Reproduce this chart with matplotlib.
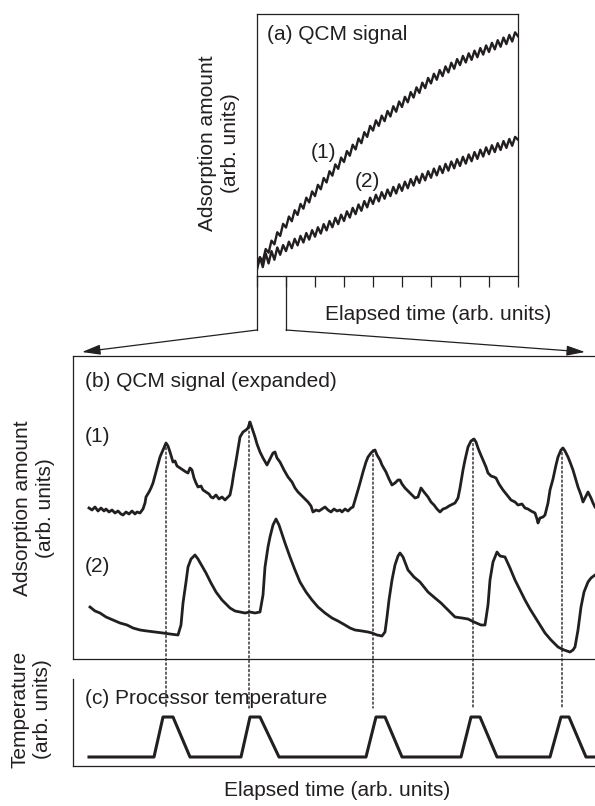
import numpy as np
import matplotlib
matplotlib.use('Agg')
from matplotlib import pyplot as plt
from matplotlib.patches import ConnectionPatch, FancyArrowPatch
from matplotlib.lines import Line2D

plt.rcParams['font.family'] = ['Liberation Sans', 'DejaVu Sans']
plt.rcParams['font.size'] = 15
INK = '#231f20'

# ---- (a) QCM signal, long run (arb. units) ----
time_a = np.linspace(0, 9, 91)
qcm_a1 = [2.5, 7.1, 5.7, 10.3, 8.9, 13.5, 12.1, 16.7, 15.3, 19.9,
          18.5, 22.7, 20.9, 25.1, 23.3, 27.5, 25.7, 29.9, 28.1, 32.3,
          30.5, 34.8, 33.1, 37.4, 35.7, 40.0, 38.3, 42.6, 40.9, 45.2,
          43.5, 47.7, 45.9, 50.1, 48.3, 52.5, 50.7, 54.9, 53.1, 57.3,
          55.5, 59.4, 57.3, 61.2, 59.1, 63.0, 60.9, 64.8, 62.7, 66.6,
          64.5, 68.4, 66.3, 70.2, 68.1, 72.0, 69.9, 73.8, 71.7, 75.6,
          73.5, 77.2, 74.9, 78.6, 76.3, 80.0, 77.7, 81.4, 79.1, 82.8,
          80.5, 84.0, 81.5, 85.0, 82.5, 86.0, 83.5, 87.0, 84.5, 88.0,
          85.5, 89.0, 86.5, 90.0, 87.5, 91.0, 88.5, 92.0, 89.5, 93.0,
          91.5]
qcm_a2 = [3.5, 7.2, 3.4, 8.6, 4.8, 9.5, 6.2, 10.9, 8.1, 11.8,
          9.5, 13.1, 10.6, 14.2, 11.7, 15.3, 12.8, 16.4, 13.9, 17.5,
          15.0, 18.6, 16.2, 19.8, 17.4, 21.0, 18.6, 22.2, 19.8, 23.4,
          21.0, 24.7, 22.3, 26.0, 23.6, 27.3, 24.9, 28.6, 26.2, 29.9,
          27.5, 31.0, 28.5, 32.0, 29.5, 33.0, 30.5, 34.0, 31.5, 35.0,
          32.5, 36.0, 33.5, 37.0, 34.5, 38.0, 35.5, 39.0, 36.5, 40.0,
          37.5, 41.0, 38.4, 41.9, 39.3, 42.8, 40.2, 43.7, 41.1, 44.6,
          42.0, 45.5, 42.9, 46.4, 43.8, 47.3, 44.7, 48.2, 45.6, 49.1,
          46.5, 49.9, 47.3, 50.7, 48.1, 51.5, 48.9, 52.3, 49.7, 53.1,
          52.0]

# ---- (b) QCM signal, expanded ----
curve1 = [(0,151),(3,149),(6,152),(9,148),(12,151),(15,148),(17,150),(20,147),(23,149),(26,146),
          (29,148),(32,145),(34,144),(37,147),(40,145),(43,148),(46,145),(48,147),(51,146),(54,150),
          (56,156),(57,162),(60,167),(62,171),(64,176),(67,187),(69,194),(71,202),(74,209),(77,216),
          (79,213),(81,207),(84,197),(86,198),(88,193),(91,191),(94,189),(97,187),(99,186),(101,191),
          (103,189),(105,181),(107,176),(109,172),(112,173),(114,169),(117,167),(120,165),(122,162),(124,161),
          (127,164),(130,160),(133,162),(136,159),(139,162),(141,164),(143,174),(145,187),(146,192),(148,204),
          (150,216),(151,222),(154,227),(157,229),(159,231),(161,237),(163,231),(166,222),(168,215),(171,207),
          (174,201),(178,194),(181,200),(184,206),(186,207),(188,201),(191,197),(195,189),(199,182),(203,177),
          (206,171),(209,167),(213,163),(216,160),(219,157),(222,153),(224,147),(227,149),(230,148),(233,150),
          (236,152),(239,149),(242,147),(245,150),(248,148),(251,149),(253,147),(256,150),(259,148),(262,151),
          (264,152),(267,162),(269,169),(271,176),(274,187),(277,197),(279,202),(282,206),(284,208),(286,209),
          (288,204),(291,199),(293,194),(297,187),(300,180),(303,174),(306,176),(309,179),(311,179),(313,175),
          (316,171),(319,168),(322,165),(326,161),(329,162),(332,171),(335,167),(339,162),(342,157),(345,154),
          (348,150),(351,147),(354,150),(357,151),(360,153),(362,154),(366,156),(369,161),(371,171),(374,189),
          (376,199),(379,212),(382,218),(385,220),(387,217),(389,211),(391,206),(394,199),(397,192),(399,186),
          (402,183),(405,182),(407,181),(410,175),(412,172),(414,169),(418,164),(422,159),(426,157),(429,154),
          (433,155),(436,151),(439,150),(442,148),(446,146),(448,140),(449,136),(451,141),(454,142),(456,144),
          (459,156),(461,169),(464,180),(467,194),(469,202),(472,209),(474,211),(476,208),(479,202),(481,197),
          (484,189),(487,179),(489,172),(492,164),(494,157),(496,161),(499,167),(502,161),(504,156),(506,152)]
curve2 = [(1,52),(6,48),(11,46),(17,42),(24,39),(31,36),(38,34),(44,31),(51,29),(58,28),
          (66,27),(74,26),(81,25),(89,24),(92,34),(94,56),(97,77),(99,92),(102,100),(106,104),
          (109,100),(113,93),(117,86),(122,76),(127,67),(133,59),(141,51),(146,48),(151,47),(156,46),
          (161,47),(166,46),(171,47),(174,64),(176,92),(179,112),(181,122),(184,134),(187,140),(190,134),
          (193,125),(196,116),(201,102),(206,89),(211,77),(217,67),(223,59),(229,52),(236,46),(243,41),
          (249,38),(256,34),(261,31),(266,29),(273,28),(279,27),(283,26),(288,24),(293,23),(296,27),
          (298,42),(300,59),(303,79),(306,94),(309,103),(311,106),(314,102),(319,89),(325,82),(331,77),
          (339,67),(346,61),(352,56),(359,49),(366,42),(373,41),(379,40),(385,37),(392,34),(396,34),
          (399,54),(401,79),(404,97),(408,107),(411,103),(416,102),(421,91),(426,79),(431,69),(436,59),
          (441,50),(446,42),(451,34),(456,26),(462,19),(469,12),(475,9),(481,7),(484,9),(486,12),
          (489,29),(492,52),(495,67),(499,77),(502,81),(506,84)]

# ---- (c) processor temperature ----
temp_t = [0, 65, 74, 84, 101, 152, 161, 171, 190, 277, 287, 296, 313,
          372, 382, 391, 408, 461, 472, 480, 497, 506]
temp_v = [9, 9, 49, 49, 9, 9, 49, 49, 9, 9, 49, 49, 9,
          9, 49, 49, 9, 9, 49, 49, 9, 9]

# heating events: time and the (1) peak value
event_t = [77, 160, 284, 384, 473]
event_peak = [216, 237, 209, 220, 211]
event_temp_end = 58

W, H = 595, 806
fig = plt.figure(figsize=(W / 100, H / 100), dpi=100)


def fx(x):
    return x / W


def fy(y):
    return 1 - y / H


# panel (a)
ax_a = fig.add_axes([fx(257), fy(276), fx(518) - fx(257), fy(14) - fy(276)])
ax_a.plot(time_a, qcm_a1, color=INK, lw=1.7)
ax_a.plot(time_a, qcm_a2, color=INK, lw=1.7)
ax_a.set_xlim(0, 9)
ax_a.set_ylim(0, 100)
ax_a.set_xticks(range(10))
ax_a.set_yticks([])
ax_a.tick_params(axis='x', direction='out', length=8, width=0.9, color=INK, labelbottom=False)
for s in ax_a.spines.values():
    s.set_linewidth(0.9)
    s.set_color(INK)
ax_a.text(0.04, 0.92, '(a) QCM signal', transform=ax_a.transAxes, color=INK, va='center')
ax_a.text(2.3, 47, '(1)', color=INK, ha='center', va='center')
ax_a.text(3.8, 36, '(2)', color=INK, ha='center', va='center')
fig.text(fx(219), fy(143), 'Adsorption amount\n(arb. units)', rotation=90, ha='center',
         va='center', multialignment='center', linespacing=1.25, color=INK)
fig.text(fx(438), fy(314), 'Elapsed time (arb. units)', ha='center', va='center', color=INK)

# zoom brackets from panel (a) ticks 0 and 1
for (x0, x1, y_end) in [(257, 82, 352), (286, 585, 352)]:
    fig.add_artist(Line2D([fx(x0), fx(x0)], [fy(276), fy(330)], transform=fig.transFigure,
                          color=INK, lw=0.9))
    fig.add_artist(FancyArrowPatch((fx(x0), fy(330)), (fx(x1), fy(y_end)),
                                   transform=fig.transFigure, color=INK, lw=0.9,
                                   arrowstyle='-|>,head_length=0.8,head_width=0.22',
                                   mutation_scale=14, shrinkA=0, shrinkB=0))

# panel (b)
ax_b = fig.add_axes([fx(73), fy(659), fx(610) - fx(73), fy(356) - fy(659)])
t1, s1 = zip(*curve1)
t2, s2 = zip(*curve2)
ax_b.plot(t1, s1, color=INK, lw=2.0, zorder=3)
ax_b.plot(t2, s2, color=INK, lw=2.0, zorder=3)
ax_b.set_xlim(-16, 521)
ax_b.set_ylim(0, 303)
ax_b.set_xticks([])
ax_b.set_yticks([])
ax_b.spines['right'].set_visible(False)
for s in ['top', 'left', 'bottom']:
    ax_b.spines[s].set_linewidth(0.9)
    ax_b.spines[s].set_color(INK)
ax_b.text(fx(85) - fx(73), 0, '', transform=ax_b.transAxes)
fig.text(fx(85), fy(381), '(b) QCM signal (expanded)', va='center', color=INK)
fig.text(fx(85), fy(436), '(1)', va='center', color=INK)
fig.text(fx(85), fy(566), '(2)', va='center', color=INK)
fig.text(fx(34), fy(508), 'Adsorption amount\n(arb. units)', rotation=90, ha='center',
         va='center', multialignment='center', linespacing=1.25, color=INK)

# panel (c)
ax_c = fig.add_axes([fx(73), fy(766), fx(610) - fx(73), fy(679) - fy(766)])
ax_c.plot(temp_t, temp_v, color=INK, lw=2.2, solid_joinstyle='round')
ax_c.set_xlim(-16, 521)
ax_c.set_ylim(0, 87)
ax_c.set_xticks([])
ax_c.set_yticks([])
ax_c.spines['right'].set_visible(False)
ax_c.spines['top'].set_visible(False)
for s in ['left', 'bottom']:
    ax_c.spines[s].set_linewidth(0.9)
    ax_c.spines[s].set_color(INK)
fig.text(fx(85), fy(698), '(c) Processor temperature', va='center', color=INK)
fig.text(fx(31), fy(709), 'Temperature\n(arb. units)', rotation=90, ha='center',
         va='center', multialignment='center', linespacing=1.25, color=INK)
fig.text(fx(337), fy(790), 'Elapsed time (arb. units)', ha='center', va='center', color=INK)

# dotted guide lines from (1) peaks down to temperature peaks
for t, pk in zip(event_t, event_peak):
    con = ConnectionPatch(xyA=(t, pk), coordsA=ax_b.transData,
                          xyB=(t, event_temp_end), coordsB=ax_c.transData,
                          color=INK, lw=1.0, linestyle=(0, (1.5, 1.8)), zorder=1)
    fig.add_artist(con)

fig.savefig('out.png', dpi=100)
plt.close()
